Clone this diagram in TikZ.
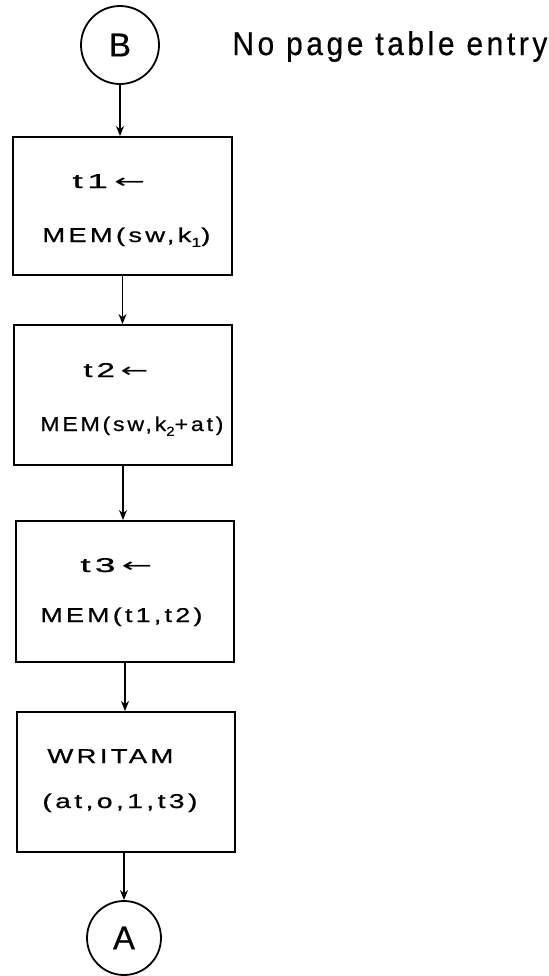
\documentclass[tikz,border=0pt]{standalone}
\usepackage{fontspec}
\usepackage{graphicx}
\setmainfont{Liberation Sans}
\newfontfamily\hand{Liberation Sans}[LetterSpace=12,FakeBold=0.6]
\newfontfamily\arrowfont{DejaVu Sans}
\usetikzlibrary{arrows.meta}
\newcommand\hw[2]{\resizebox{#1}{\height}{\hand #2}}
\newcommand\lowsub[1]{\raisebox{-0.45ex}{\fontsize{6.5}{7}\selectfont #1}}
\newcommand\larr{\,{\arrowfont ←}}
\begin{document}
\begin{tikzpicture}[x=0.5pt,y=-0.5pt,
  boxst/.style={draw, line width=1pt, inner sep=0pt},
  termst/.style={draw, circle, line width=0.9pt, inner sep=0pt,
    font=\hand\fontsize{16.5}{18}\selectfont},
  arr/.style={line width=0.8pt, -{Stealth[length=5pt,width=4pt]}},
  lbl/.style={anchor=base west, inner sep=0pt, font=\fontsize{10}{12}\selectfont},
  biglbl/.style={anchor=base west, inner sep=0pt, font=\fontsize{16.5}{18}\selectfont}]
\useasboundingbox (0,0) rectangle (549,976);

% terminals
\node[termst, minimum size=39pt] (B) at (120,45) {B};
\node[termst, minimum size=37pt] (A) at (124,938) {A};
\node[biglbl] (note) at (232,55) {\hw{157.5pt}{No page table entry}};

% boxes
\node[boxst, minimum width=109.5pt, minimum height=69pt] (box1) at (122.5,206) {};
\node[boxst, minimum width=109pt, minimum height=70pt] (box2) at (123,395) {};
\node[boxst, minimum width=109pt, minimum height=70.5pt] (box3) at (125,591.5) {};
\node[boxst, minimum width=109pt, minimum height=70pt] (box4) at (126,782) {};

% box texts
\node[lbl] (t1a) at (72,188) {\hw{36.5pt}{t1\larr}};
\node[lbl] (t1b) at (42,242) {\hw{84pt}{MEM(sw,k\lowsub{1})}};
\node[lbl] (t2a) at (83,377) {\hw{32.5pt}{t2\larr}};
\node[lbl] (t2b) at (40,431) {\hw{91.5pt}{MEM(sw,k\lowsub{2}+at)}};
\node[lbl] (t3a) at (80,572) {\hw{36pt}{t3\larr}};
\node[lbl] (t3b) at (40,622) {\hw{81pt}{MEM(t1,t2)}};
\node[lbl] (t4a) at (47,763) {\hw{63pt}{WRITAM}};
\node[lbl] (t4b) at (42,808) {\hw{77.5pt}{(at,o,1,t3)}};

% connectors
\draw[arr] (B.south) -- (B.south |- box1.north);
\draw[arr] (box1.south) -- (box1.south |- box2.north);
\draw[arr] (box2.south) -- (box2.south |- box3.north);
\draw[arr] (box3.south) -- (box3.south |- box4.north);
\draw[arr] (A.north |- box4.south) -- (A.north);
\end{tikzpicture}
\end{document}
